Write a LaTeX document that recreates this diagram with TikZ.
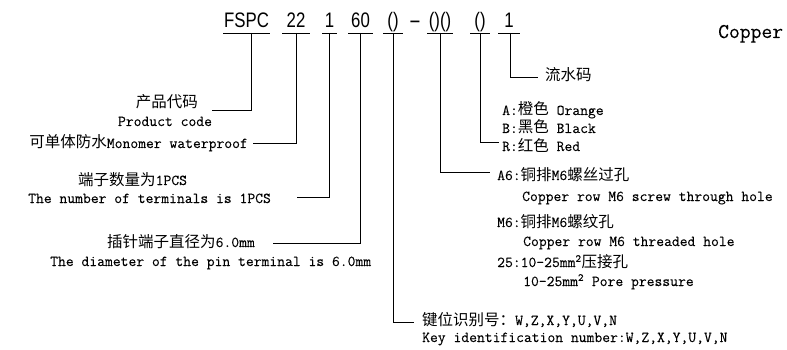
\documentclass[tikz,border=0pt]{standalone}
\usepackage{fontspec}
\newfontfamily\cjkfont{Noto Sans CJK SC}
\newfontfamily\lblfont[FakeBold=0.15]{Latin Modern Mono}
\newfontfamily\codefont[FakeStretch=0.8]{Liberation Sans}
\newcommand{\zhs}[1]{{\cjkfont\fontsize{15.5}{15.5}\selectfont #1}}
\begin{document}
\begin{tikzpicture}[x=1pt,y=-1pt,
  lbl/.style={inner sep=0pt, font=\lblfont\fontsize{15.2}{17}\selectfont, anchor=base west},
  code/.style={inner sep=0pt, font=\codefont\fontsize{21}{21}\selectfont, anchor=base},
  leader/.style={line width=0.8pt, black},
  uline/.style={line width=0.8pt, black}]
\useasboundingbox (0,0) rectangle (787,350);

% code
\node[code] (fspc) at (246.5,28) {FSPC};
\node[code] (c22) at (296,28) {22};
\node[code] (c1) at (329.5,28) {1};
\node[code] (c60) at (360.5,28) {60};
\node[code] (ckey) at (393,28) {()};
\node[code] (cdash) at (415,28) {\scalebox{2.2}[1]{-}};
\node[code] (chole) at (440,28) {()()};
\node[code] (ccol) at (480,28) {()};
\node[code] (cser) at (509,28) {1};
\node[inner sep=0pt, anchor=base west, font=\lblfont\fontsize{21}{21}\selectfont] (copper) at (718,38) {Copper};

% underlines
\draw[uline] (223,33) -- (270,33);
\draw[uline] (282,33) -- (310,33);
\draw[uline] (322,33) -- (337,33);
\draw[uline] (348,33) -- (373,33);
\draw[uline] (383,33) -- (403,33);
\draw[uline] (427,33) -- (453,33);
\draw[uline] (470,33) -- (490,33);
\draw[uline] (498,33) -- (520,33);

% left labels
\node[lbl, anchor=base east] (l1a) at (198,108) {\zhs{产品代码}};
\node[lbl, anchor=base] (l1b) at (165,126) {Product code};
\node[lbl, anchor=base east] (l2) at (248,148) {\zhs{可单体防水}Monomer waterproof};
\node[lbl] (l3a) at (78,185) {\zhs{端子数量为}1PCS};
\node[lbl] (l3b) at (28,203) {The number of terminals is 1PCS};
\node[lbl] (l4a) at (107,247) {\zhs{插针端子直径为}6.0mm};
\node[lbl] (l4b) at (50,266) {The diameter of the pin terminal is 6.0mm};

% right labels
\node[lbl] (r5a) at (422,325) {\zhs{键位识别号：}W,Z,X,Y,U,V,N};
\node[lbl] (r5b) at (422,342) {Key identification number:W,Z,X,Y,U,V,N};
\node[lbl] (r6a) at (497,180) {A6:\zhs{铜排}M6\zhs{螺丝过孔}};
\node[lbl] (r6b) at (522,201) {Copper row M6 screw through hole};
\node[lbl] (r6c) at (497,227) {M6:\zhs{铜排}M6\zhs{螺纹孔}};
\node[lbl] (r6d) at (523,246) {Copper row M6 threaded hole};
\node[lbl] (r6e) at (497,267) {25:10-25mm\textsuperscript{2}\zhs{压接孔}};
\node[lbl] (r6f) at (523,286) {10-25mm\textsuperscript{2} Pore pressure};
\node[lbl] (r7a) at (502,115) {A:\zhs{橙色} Orange};
\node[lbl] (r7b) at (502,133) {B:\zhs{黑色} Black};
\node[lbl] (r7c) at (502,151) {R:\zhs{红色} Red};
\node[lbl] (r8) at (545,81) {\zhs{流水码}};

% leader ends
\coordinate (t1) at (251,33);  \coordinate (e1) at (212,110);
\coordinate (t2) at (296,33);  \coordinate (e2) at (253,143);
\coordinate (t3) at (329,33);  \coordinate (e3) at (297,197);
\coordinate (t4) at (360,33);  \coordinate (e4) at (273,243);
\coordinate (t5) at (393,33);  \coordinate (e5) at (414,322);
\coordinate (t6) at (440,33);  \coordinate (e6) at (490,172);
\coordinate (t7) at (480,33);  \coordinate (e7) at (499,142);
\coordinate (t8) at (510,33);  \coordinate (e8) at (538,77);

\foreach \i in {1,...,8} \draw[leader] (t\i) |- (e\i);
\end{tikzpicture}
\end{document}
